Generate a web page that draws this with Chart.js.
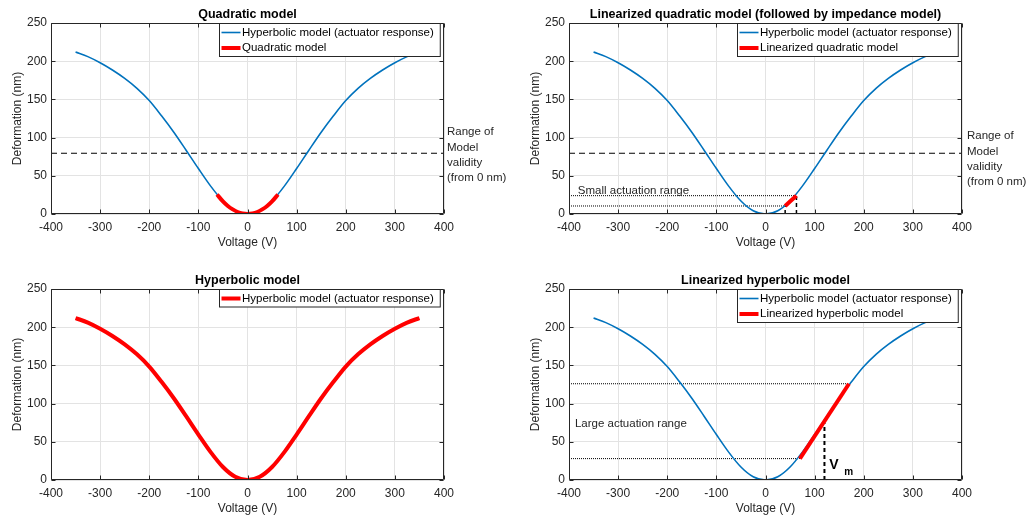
<!DOCTYPE html>
<html>
<head>
<meta charset="utf-8">
<script src="https://cdn.jsdelivr.net/npm/chart.js@4.4.0/dist/chart.umd.min.js"></script>
<style>
  html, body { margin: 0; padding: 0; background: #fff; overflow: hidden; }
  canvas { position: absolute; }
</style>
</head>
<body>
<canvas id="c1" width="517" height="262" style="left:0;top:0"></canvas>
<canvas id="c2" width="517" height="262" style="left:518px;top:0"></canvas>
<canvas id="c3" width="517" height="262" style="left:0;top:266px"></canvas>
<canvas id="c4" width="517" height="262" style="left:518px;top:266px"></canvas>
<script>
// hyperbolic actuator response
const voltage = [-350, -325, -300, -275, -250, -225, -200, -175, -150, -125, -100, -75, -50, -25,
  0, 25, 50, 75, 100, 125, 150, 175, 200, 225, 250, 275, 300, 325, 350];
const deformation = [212, 206, 198, 188.5, 177.5, 164.5, 148.5, 128.5, 107, 83.5, 59.5, 36.5, 17, 4.2,
  0, 4.2, 17, 36.5, 59.5, 83.5, 107, 128.5, 148.5, 164.5, 177.5, 188.5, 198, 206, 212];

// quadratic model around 0 V
const quadVoltage = [-62, -50, -40, -30, -20, -10, 0, 10, 20, 30, 40, 50, 62];
const quadDeformation = [25.5, 16.5, 10.5, 6, 2.6, 0.7, 0, 0.7, 2.6, 6, 10.5, 16.5, 25.5];

// linearized quadratic model (small actuation range)
const linQuadVoltage = [40, 63];
const linQuadDeformation = [10.5, 24];

// linearized hyperbolic model (large actuation range)
const linHypVoltage = [70, 170];
const linHypDeformation = [28, 126];
const vmVoltage = 120;
const vmDeformation = 75;

const validityLimit = 79.5;

const xTicks = [-400, -300, -200, -100, 0, 100, 200, 300, 400];
const yTicks = [0, 50, 100, 150, 200, 250];

const FONT = "'Liberation Sans', Arial, Helvetica, sans-serif";
const AXIS = '#262626';
const BLUE = '#0072BD';
const RED = '#FF0000';

Chart.defaults.font.family = FONT;

function pts(xs, ys) {
  return xs.map((v, i) => ({ x: v, y: ys[i] }));
}

function curve(label, color, width, xs, ys, order) {
  return {
    label, data: pts(xs, ys), showLine: true, inLegend: true,
    borderColor: color, backgroundColor: color, borderWidth: width,
    pointRadius: 0, cubicInterpolationMode: 'monotone', order
  };
}

function guide(xs, ys, dash, width) {
  return {
    label: '', data: pts(xs, ys), showLine: true, inLegend: false,
    borderColor: '#000', borderWidth: width || 1, borderDash: dash,
    pointRadius: 0, order: 5
  };
}

const matlabLook = {
  id: 'matlabLook',
  afterDatasetsDraw(chart, args, opts) {
    const { ctx, chartArea: a, scales: { x, y } } = chart;
    const L = Math.round(a.left) + 0.5, R = Math.round(a.right) - 0.5;
    const T = Math.round(a.top) + 0.5, B = Math.round(a.bottom) - 0.5;
    ctx.save();

    // axes box with inward ticks
    ctx.strokeStyle = AXIS;
    ctx.lineWidth = 1;
    ctx.setLineDash([]);
    ctx.beginPath();
    ctx.rect(L, T, R - L, B - T);
    xTicks.forEach(v => {
      const px = Math.round(x.getPixelForValue(v)) + 0.5;
      ctx.moveTo(px, B); ctx.lineTo(px, B - 4);
      ctx.moveTo(px, T); ctx.lineTo(px, T + 4);
    });
    yTicks.forEach(v => {
      const py = Math.round(y.getPixelForValue(v)) + 0.5;
      ctx.moveTo(L, py); ctx.lineTo(L + 4, py);
      ctx.moveTo(R, py); ctx.lineTo(R - 4, py);
    });
    ctx.stroke();

    // text annotations
    (opts.texts || []).forEach(t => {
      ctx.font = t.font || '11.5px ' + FONT;
      ctx.fillStyle = t.color || AXIS;
      ctx.textAlign = 'left';
      ctx.textBaseline = 'middle';
      ctx.fillText(t.text, x.getPixelForValue(t.x) + (t.dx || 0), y.getPixelForValue(t.y));
    });

    // legend box in the upper right corner
    const items = chart.data.datasets.filter(d => d.inLegend);
    ctx.font = '11.5px ' + FONT;
    const w = Math.max(...items.map(d => ctx.measureText(d.label).width)) + 29;
    const h = items.length * 15.5 + 2;
    const bx = Math.round(a.right - 4 - w) + 0.5, by = T;
    ctx.fillStyle = '#fff';
    ctx.fillRect(bx, by, w, h);
    ctx.strokeStyle = AXIS;
    ctx.strokeRect(bx, by, w, h);
    items.forEach((d, i) => {
      const cy = by + 9 + i * 15.5;
      ctx.strokeStyle = d.borderColor;
      ctx.lineWidth = d.borderWidth;
      ctx.beginPath();
      ctx.moveTo(bx + 2, cy); ctx.lineTo(bx + 21, cy);
      ctx.stroke();
      ctx.fillStyle = '#000';
      ctx.textAlign = 'left';
      ctx.textBaseline = 'middle';
      ctx.fillText(d.label, bx + 22.5, cy);
    });
    ctx.restore();
  }
};

function makeChart(id, title, datasets, texts) {
  const tickFont = { size: 12, family: FONT };
  return new Chart(document.getElementById(id), {
    type: 'scatter',
    data: { datasets },
    options: {
      responsive: false,
      animation: false,
      layout: { padding: { right: 73 } },
      plugins: {
        legend: { display: false },
        tooltip: { enabled: false },
        title: {
          display: true, text: title, fullSize: false, color: '#000',
          font: { size: 12.5, weight: 'bold', family: FONT },
          padding: { top: 7, bottom: 1 }
        },
        matlabLook: { texts }
      },
      scales: {
        x: {
          type: 'linear', min: -400, max: 400,
          afterBuildTicks: s => { s.ticks = xTicks.map(v => ({ value: v })); },
          afterFit: s => { s.height = 48; },
          ticks: { padding: 6, color: AXIS, font: tickFont, callback: v => String(v) },
          grid: { color: '#e3e3e3', drawTicks: false },
          border: { display: false },
          title: { display: true, text: 'Voltage (V)', color: AXIS, font: tickFont, padding: { top: 0, bottom: 12 } }
        },
        y: {
          type: 'linear', min: 0, max: 250,
          afterBuildTicks: s => { s.ticks = yTicks.map(v => ({ value: v })); },
          afterFit: s => { s.width = 51; },
          ticks: { padding: 4, color: AXIS, font: tickFont, callback: v => String(v) },
          grid: { color: '#e3e3e3', drawTicks: false },
          border: { display: false },
          title: { display: true, text: 'Deformation (nm)', color: AXIS, font: tickFont, padding: { top: 10, bottom: 0 } }
        }
      }
    },
    plugins: [matlabLook]
  });
}

const hypLabel = 'Hyperbolic model (actuator response)';
const validity = () => guide([-400, 400], [validityLimit, validityLimit], [6, 4], 1);
const validityText = (dx, top) => ['Range of', 'Model', 'validity', '(from 0 nm)']
  .map((s, i) => ({ text: s, x: 400, dx, y: top - i * 20 }));

makeChart('c1', 'Quadratic model', [
  curve(hypLabel, BLUE, 1.6, voltage, deformation, 1),
  curve('Quadratic model', RED, 4, quadVoltage, quadDeformation, 0),
  validity()
], validityText(3, 107));

makeChart('c2', 'Linearized quadratic model (followed by impedance model)', [
  curve(hypLabel, BLUE, 1.6, voltage, deformation, 1),
  curve('Linearized quadratic model', RED, 4, linQuadVoltage, linQuadDeformation, 0),
  validity(),
  guide([-400, linQuadVoltage[1]], [linQuadDeformation[1], linQuadDeformation[1]], [1, 1]),
  guide([-400, linQuadVoltage[0]], [linQuadDeformation[0], linQuadDeformation[0]], [1, 1]),
  guide([linQuadVoltage[1], linQuadVoltage[1]], [0, linQuadDeformation[1]], [4, 3], 1.5),
  guide([linQuadVoltage[0], linQuadVoltage[0]], [0, linQuadDeformation[0]], [4, 3], 1.5)
], validityText(5, 102).concat([
  { text: 'Small actuation range', x: -382, y: 30.5 }
]));

makeChart('c3', 'Hyperbolic model', [
  curve(hypLabel, RED, 4, voltage, deformation, 0)
], []);

makeChart('c4', 'Linearized hyperbolic model', [
  curve(hypLabel, BLUE, 1.6, voltage, deformation, 1),
  curve('Linearized hyperbolic model', RED, 4, linHypVoltage, linHypDeformation, 0),
  guide([-400, linHypVoltage[1]], [linHypDeformation[1], linHypDeformation[1]], [1, 1]),
  guide([-400, linHypVoltage[0]], [linHypDeformation[0], linHypDeformation[0]], [1, 1]),
  guide([vmVoltage, vmVoltage], [0, vmDeformation], [4, 3], 2)
], [
  { text: 'Large actuation range', x: -388, y: 73 },
  { text: 'V', x: 130, y: 20, font: 'bold 14px ' + FONT, color: '#000' },
  { text: 'm', x: 130, dx: 15, y: 10, font: 'bold 10px ' + FONT, color: '#000' }
]);
</script>
</body>
</html>
